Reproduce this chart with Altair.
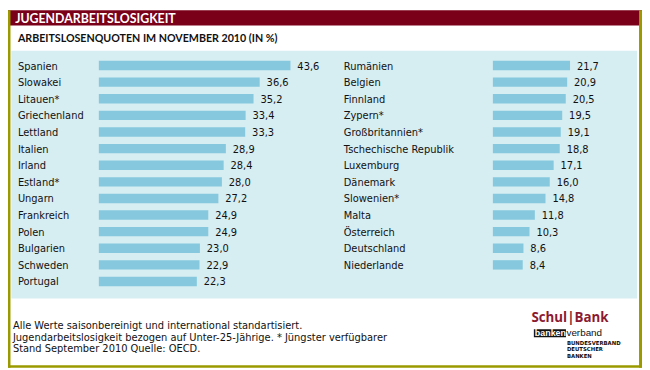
import altair as alt
import pandas as pd

# ---------------- data ----------------
left_countries = ["Spanien", "Slowakei", "Litauen*", "Griechenland", "Lettland", "Italien",
                  "Irland", "Estland*", "Ungarn", "Frankreich", "Polen", "Bulgarien",
                  "Schweden", "Portugal"]
left_values = [43.6, 36.6, 35.2, 33.4, 33.3, 28.9, 28.4, 28.0, 27.2, 24.9, 24.9, 23.0, 22.9, 22.3]

right_countries = ["Rumänien", "Belgien", "Finnland", "Zypern*", "Großbritannien*",
                   "Tschechische Republik", "Luxemburg", "Dänemark", "Slowenien*", "Malta",
                   "Österreich", "Deutschland", "Niederlande"]
right_values = [21.7, 20.9, 20.5, 19.5, 19.1, 18.8, 17.1, 16.0, 14.8, 11.8, 10.3, 8.6, 8.4]

title_text = "JUGENDARBEITSLOSIGKEIT"
subtitle_text = "ARBEITSLOSENQUOTEN IM NOVEMBER 2010 (IN %)"
note_lines = [
    "Alle Werte saisonbereinigt und international standartisiert.",
    "Jugendarbeitslosigkeit bezogen auf Unter-25-Jährige. * Jüngster verfügbarer",
    "Stand September 2010 Quelle: OECD.",
]
logo_title = "Schul|Bank"
logo_box = "banken"
logo_rest = "verband"
logo_small = ["BUNDESVERBAND", "DEUTSCHER", "BANKEN"]

# ---------------- geometry / style ----------------
W, H = 642, 362


def X(r):
    # layout position (reference pixel) -> chart pixel; the page margin is absorbed on the left
    return r * 10 / 18 if r < 18 else r - 8


def Y(r):
    return r * 22 / 30 if r < 30 else r - 8


ROW0, STEP, BAR = 64, 16.82, 9.5
RED = "#7a0019"
OLIVE = "#9a9a00"
PANEL = "#d6edf2"
BARC = "#86c9de"
LABEL_FONT = "DejaVu Sans"


def fmt(v):
    return f"{v:.1f}".replace(".", ",")


left_df = pd.DataFrame({"land": left_countries, "wert": left_values,
                        "txt": [fmt(v) for v in left_values]})
right_df = pd.DataFrame({"land": right_countries, "wert": right_values,
                         "txt": [fmt(v) for v in right_values]})

pin = 1 - BAR / STEP


def panel(df, countries, label_x, bar_x0, px_per_unit, xmax):
    n = len(countries)
    yscale = alt.Scale(domain=countries,
                       range=[Y(ROW0 - STEP / 2), Y(ROW0 + (n - 1) * STEP + STEP / 2)],
                       paddingInner=pin, paddingOuter=pin / 2)
    xscale = alt.Scale(domain=[0, xmax],
                       range=[X(bar_x0), X(bar_x0 + px_per_unit * xmax)])
    base = alt.Chart(df)
    bars = base.mark_bar(color=BARC).encode(
        x=alt.X("wert:Q", scale=xscale, axis=None),
        y=alt.Y("land:N", scale=yscale, axis=None, sort=None),
    )
    labels = base.mark_text(align="left", baseline="middle", dy=1, font=LABEL_FONT,
                            fontSize=10, color="#111111").encode(
        x=alt.value(X(label_x)),
        y=alt.Y("land:N", scale=yscale, axis=None, sort=None),
        text="land:N",
    )
    vals = base.mark_text(align="left", baseline="middle", dx=7, dy=1, font=LABEL_FONT,
                          fontSize=10, color="#111111").encode(
        x=alt.X("wert:Q", scale=xscale, axis=None),
        y=alt.Y("land:N", scale=yscale, axis=None, sort=None),
        text="txt:N",
    )
    return alt.layer(bars, labels, vals)


dummy = alt.Data(values=[{"k": 1}])


def rect(x1, x2, y1, y2, **kw):
    return alt.Chart(dummy).mark_rect(**kw).encode(
        x=alt.value(x1), x2=alt.value(x2), y=alt.value(y1), y2=alt.value(y2))


def label(s, x, y, **kw):
    opts = dict(align="left", baseline="middle")
    opts.update(kw)
    return alt.Chart(dummy).mark_text(text=s, **opts).encode(x=alt.value(x), y=alt.value(y))


layers = [
    rect(X(6), X(645), Y(49), Y(300), color=PANEL),
    rect(0, W, 0, Y(21), color=RED),
    rect(0, 2.5, 0, H, color=OLIVE),
    rect(W - 3, W, 0, H, color=OLIVE),
    rect(0, W, H - 2.5, H, color=OLIVE),
    label(title_text, X(13), Y(11.5), font="Lato", fontWeight="bold", fontSize=12.5,
          color="white"),
    label(subtitle_text, X(18), Y(37), font="Lato", fontWeight="bold", fontSize=10.8,
          color="#111111"),
    panel(left_df, left_countries, 18, 100, 4.45, 50),
    panel(right_df, right_countries, 348, 499, 3.6, 25),
]

for i, line in enumerate(note_lines):
    layers.append(label(line, X(9), Y(328 + i * 11.7), font="DejaVu Sans",
                        fontSize=10, color="#111111"))

layers += [
    label(logo_title, X(538), Y(320), font="Open Sans", fontWeight="bold", fontSize=13.5,
          color="#8b1a30"),
    rect(X(540.5), X(573), Y(331), Y(339), color="#111111"),
    label(logo_box, X(541.5), Y(335), font="Liberation Sans", fontWeight="bold",
          fontSize=9, color="white"),
    label(logo_rest, X(573.5), Y(335), font="Liberation Sans", fontSize=10,
          color="#111111"),
]
for i, s in enumerate(logo_small):
    layers.append(label(s, X(574), Y(344.5 + i * 6.6), font="DejaVu Sans",
                        fontWeight="bold", fontSize=5.4, color="#111111"))

chart = alt.layer(*layers).resolve_scale(x="independent", y="independent").properties(
    width=W, height=H, autosize=alt.AutoSizeParams(type="none"), padding=0,
    background="white",
).configure_view(stroke=None)

chart.save("out.html", embed_options={"renderer": "svg", "actions": False})
